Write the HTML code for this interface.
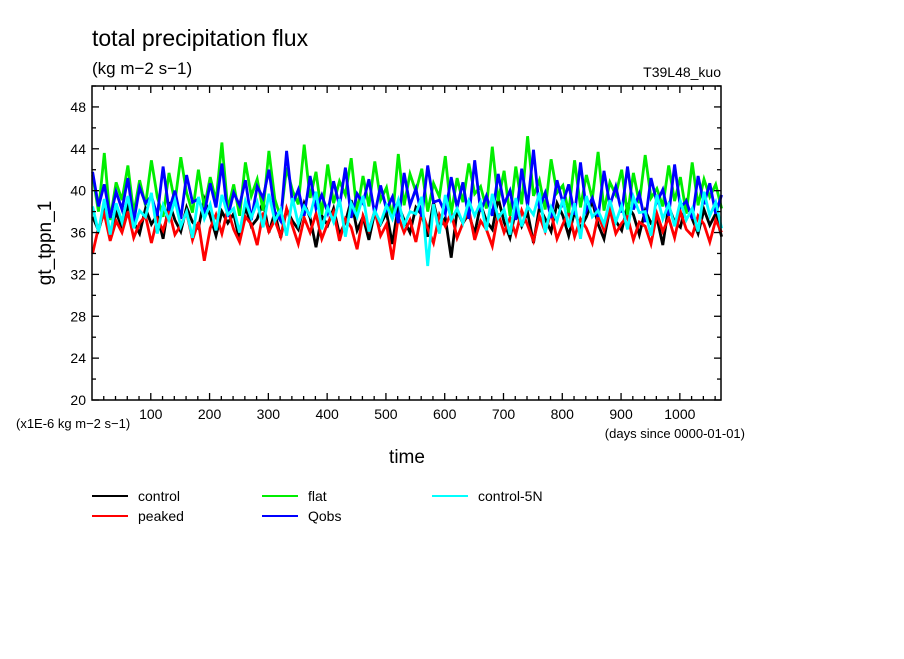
<!DOCTYPE html>
<html><head><meta charset="utf-8"><style>
body{margin:0;background:#fff;}
svg text{font-family:"Liberation Sans",sans-serif;fill:#000;}
</style></head><body>
<svg id="c" width="904" height="654" viewBox="0 0 904 654">
<rect width="904" height="654" fill="#fff"/>
<text x="92" y="46" font-size="23">total precipitation flux</text>
<text x="92" y="74" font-size="17">(kg m−2 s−1)</text>
<text x="721" y="77" font-size="14" text-anchor="end">T39L48_kuo</text>
<text transform="translate(51,243) rotate(-90)" font-size="19" text-anchor="middle">gt_tppn_1</text>
<text x="407" y="463" font-size="19" text-anchor="middle">time</text>
<text x="16" y="428" font-size="13">(x1E-6 kg m−2 s−1)</text>
<text x="745" y="438" font-size="13" text-anchor="end">(days since 0000-01-01)</text>
<g id="series"></g>
<g id="axes"></g>
<g id="legend"></g>
</svg>
<script>
const step = 10;
const yTicks = [20,24,28,32,36,40,44,48];
const xTicks = [100,200,300,400,500,600,700,800,900,1000];
const seriesNames = ["control","peaked","flat","Qobs","control-5N"];
const seriesColors = ["#000000","#ff0000","#00ee00","#0000ff","#00ffff"];
const control = [37.5,36.2,38.1,35.8,37.9,36.5,38.6,37.0,35.9,38.3,36.8,37.7,35.4,38.9,37.2,36.1,38.4,37.0,36.4,39.2,37.6,35.7,38.0,36.9,37.8,35.2,38.5,36.6,37.3,39.0,36.0,37.9,35.5,38.2,37.1,36.3,38.8,37.4,34.6,37.6,36.7,38.3,35.8,37.0,39.1,36.2,37.5,35.3,38.0,36.8,37.9,34.9,38.6,37.2,36.0,38.4,37.7,35.6,38.9,36.5,37.4,33.6,38.1,36.9,37.8,35.9,38.7,37.1,36.3,39.3,37.0,35.5,38.2,36.6,37.9,35.0,38.4,37.3,36.1,38.8,37.6,35.7,38.0,36.4,37.5,39.0,36.8,35.4,38.3,37.1,36.2,38.6,37.7,35.8,38.1,36.9,37.4,34.8,38.5,37.0,36.5,38.9,37.3,35.9,38.2,36.7,37.8,35.6];
const peaked = [34.0,36.5,37.8,35.2,37.1,36.0,38.0,35.5,36.9,37.6,35.0,37.3,36.2,38.1,35.8,36.7,37.9,35.3,37.0,33.3,36.4,37.7,35.9,38.2,36.3,35.1,37.5,36.8,34.8,37.9,36.1,37.2,35.6,38.3,36.6,34.9,37.4,36.0,37.8,35.4,36.9,38.0,35.2,37.3,36.5,34.4,37.6,36.2,38.1,35.7,36.8,33.4,37.5,36.0,37.2,35.1,38.0,36.4,35.0,37.7,36.6,37.9,35.5,36.9,38.2,35.3,37.1,36.3,34.7,37.8,36.0,37.4,35.8,38.1,36.7,35.2,37.6,36.1,37.9,35.4,36.8,38.0,35.6,37.3,36.4,35.0,37.7,36.2,38.2,35.9,36.9,37.5,35.3,37.0,36.6,34.9,37.8,36.1,37.4,35.5,38.0,36.3,35.7,37.6,36.8,35.1,37.2,36.0];
const flat = [41.5,38.0,43.6,37.2,40.8,39.1,42.4,37.8,41.0,38.6,42.9,39.4,37.5,41.7,38.9,43.2,39.8,37.9,42.0,38.4,41.3,39.0,44.6,38.2,40.6,37.6,42.7,39.5,41.1,38.1,43.8,39.2,37.4,42.2,40.0,38.7,44.4,39.3,41.8,37.7,42.5,38.8,40.9,39.6,43.1,37.9,41.4,38.5,42.8,39.1,40.3,37.3,43.5,38.6,41.6,39.9,42.1,38.0,40.7,39.4,43.3,37.8,41.2,38.9,42.6,39.7,40.4,38.3,44.2,39.0,41.9,37.6,42.3,38.7,45.2,39.5,41.0,38.2,43.0,39.8,40.5,37.9,42.9,38.4,41.5,39.2,43.7,38.1,40.8,39.6,42.0,37.7,41.7,38.8,43.4,39.3,40.2,38.5,42.4,39.0,41.3,37.8,42.7,38.6,41.1,39.4,40.6,38.3];
const qobs = [41.8,38.5,40.6,37.4,39.9,38.2,41.2,37.0,40.3,38.8,39.5,37.6,42.3,38.1,40.0,37.3,41.5,38.9,39.2,37.8,40.7,38.4,42.6,37.5,39.8,38.6,41.0,37.2,40.4,39.3,42.0,38.0,37.1,43.8,38.7,40.1,37.6,41.4,38.3,39.6,37.9,40.9,38.5,42.2,37.4,39.7,38.8,41.1,37.7,40.5,38.2,39.4,36.9,41.7,38.6,40.2,37.5,42.4,38.9,39.1,37.8,41.3,38.4,40.8,37.3,42.9,38.0,39.5,37.6,41.6,38.7,40.0,37.2,42.1,38.5,43.9,38.3,39.8,37.4,41.0,38.8,40.6,37.7,42.7,38.1,39.3,37.5,41.9,38.6,40.4,37.9,42.3,38.2,39.7,37.0,41.2,38.9,40.1,37.6,42.5,38.4,39.0,37.3,41.4,38.7,40.7,37.8,39.6];
const control5n = [38.5,36.0,39.2,35.8,38.8,37.0,39.5,36.4,38.1,37.5,39.8,35.9,38.6,37.2,39.1,36.6,38.0,35.5,39.4,37.3,38.7,36.2,39.6,37.7,38.3,36.0,39.0,37.4,38.9,36.5,39.7,37.1,38.2,35.7,39.3,36.8,38.5,37.6,39.9,36.3,38.4,37.0,39.2,35.6,38.8,37.5,39.5,36.1,38.1,36.9,38.6,37.3,39.1,36.7,38.0,37.8,39.4,32.8,38.7,35.9,39.6,37.2,38.3,36.9,39.0,37.6,38.9,36.2,39.7,37.4,38.2,35.8,39.3,36.6,38.5,37.7,39.8,36.0,38.4,37.1,39.2,36.5,38.8,35.4,39.5,37.5,38.1,36.8,39.1,37.0,38.6,36.3,39.4,37.9,38.0,35.7,39.6,37.3,38.7,36.6,39.0,37.2,38.3,36.1,39.9,37.6,38.9,36.4];
const allSeries = [control,peaked,flat,qobs,control5n];

const L=92,R=721,T=86,B=400, X0=0,X1=1070, Y0=20,Y1=50;
const xs=d=>L+(d-X0)/(X1-X0)*(R-L);
const ys=v=>B-(v-Y0)/(Y1-Y0)*(B-T);
const NS="http://www.w3.org/2000/svg";
function mk(tag,attrs,parent){const e=document.createElementNS(NS,tag);for(const k in attrs)e.setAttribute(k,attrs[k]);parent.appendChild(e);return e;}

const sg=document.getElementById('series');
allSeries.forEach((arr,si)=>{
  const pts=arr.map((v,i)=>xs(i*step+1).toFixed(1)+","+ys(v).toFixed(1)).join(" ");
  const p=mk('polyline',{points:pts,fill:'none',stroke:seriesColors[si],'stroke-width':2.8,'stroke-linejoin':'miter'},sg);
  
  
});

const ax=document.getElementById('axes');
const fr=mk('rect',{x:L,y:T,width:R-L,height:B-T,fill:'none',stroke:'#000','stroke-width':1.5},ax);


for(let v=Y0;v<=Y1;v+=2){
  const major=yTicks.includes(v), len=major?7:4, y=ys(v);
  mk('line',{x1:L,x2:L+len,y1:y,y2:y,stroke:'#000','stroke-width':1.3},ax);
  mk('line',{x1:R,x2:R-len,y1:y,y2:y,stroke:'#000','stroke-width':1.3},ax);
}
yTicks.forEach(v=>{
  const t=mk('text',{x:L-6,y:ys(v)+5,'font-size':14,'text-anchor':'end'},ax);
  t.textContent=v;
  
  
});
for(let d=20;d<X1;d+=20){
  const major=d%100===0, len=major?7:4, x=xs(d);
  mk('line',{x1:x,x2:x,y1:B,y2:B-len,stroke:'#000','stroke-width':1.3},ax);
  mk('line',{x1:x,x2:x,y1:T,y2:T+len,stroke:'#000','stroke-width':1.3},ax);
}
xTicks.forEach(d=>{
  const t=mk('text',{x:xs(d),y:B+19,'font-size':14,'text-anchor':'middle'},ax);
  t.textContent=d;
  
  
});

const lg=document.getElementById('legend');
const pos=[[92,496],[92,516],[262,496],[262,516],[432,496]];
const order=[0,1,2,3,4];
order.forEach((si,k)=>{
  const [x,y]=pos[k];
  const g=mk('g',{},lg);
  
  
  mk('line',{x1:x,x2:x+36,y1:y,y2:y,stroke:seriesColors[si],'stroke-width':2},g);
  const t=mk('text',{x:x+46,y:y+5,'font-size':14},g);
  t.textContent=seriesNames[si];
});
</script>
</body></html>
